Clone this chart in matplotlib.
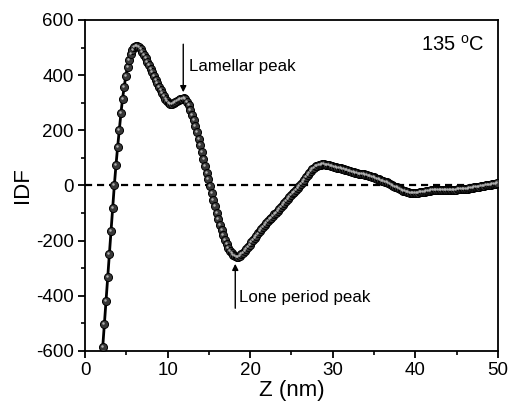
import numpy as np
import matplotlib
matplotlib.use("Agg")
import matplotlib.pyplot as plt
from matplotlib.ticker import MultipleLocator
from matplotlib.transforms import offset_copy

# ------------------- DATA ------------------- #
z_start = 1.95
z_step = 0.2
idf = [
    -668, -585, -503, -418, -333, -248, -166, -81, 0, 73,
    139, 200, 261, 315, 358, 398, 430, 455, 476, 492, 501,
    505, 505, 501, 494, 485, 474, 462, 449, 436, 423,
    410, 397, 384, 371, 358, 346, 334, 323, 314, 306,
    300, 297, 297, 298, 301, 305, 309, 313, 315, 316,
    312, 303, 290, 274, 256, 236, 215, 193, 170, 146,
    122, 97, 72, 47, 22, -3, -28, -52, -76, -99,
    -121, -142, -162, -180, -197, -212, -225, -236, -245, -252,
    -257, -259, -258, -255, -250, -244, -237, -230, -222, -214,
    -206, -198, -190, -182, -174, -166, -158, -150, -143, -136,
    -129, -123, -117, -111, -105, -99, -92, -85, -78, -71,
    -64, -57, -50, -43, -36, -29, -22, -15, -8, -1,
    6, 13, 21, 29, 37, 45, 52, 58, 64, 69,
    72, 75, 76, 77, 77, 76, 75, 73, 71, 69,
    67, 66, 64, 63, 62, 60, 58, 56, 55, 53,
    51, 49, 48, 46, 45, 43, 42, 41, 40, 39,
    38, 36, 34, 31, 29, 27, 24, 22, 19, 17,
    15, 13, 11, 8, 5, 2, -1, -4, -7, -10,
    -13, -16, -19, -21, -23, -25, -26, -27, -27, -27,
    -27, -26, -25, -24, -23, -22, -21, -20, -19, -18,
    -17, -17, -16, -16, -16, -16, -16, -16, -16, -16,
    -16, -16, -16, -15, -15, -14, -14, -13, -13, -12,
    -12, -11, -10, -9, -8, -7, -6, -5, -4, -3,
    -2, -1, 0, 1, 2, 3, 4, 6, 7, 9,
]
z = z_start + z_step * np.arange(len(idf))

temp_label = r"135 $^{\mathregular{o}}$C"
lamellar_label = "Lamellar peak"
long_period_label = "Lone period peak"

# ------------------- STYLE ------------------- #
plt.rcParams["font.family"] = ["Liberation Sans", "DejaVu Sans"]
plt.rcParams["mathtext.fontset"] = "custom"
plt.rcParams["mathtext.rm"] = "Liberation Sans"
plt.rcParams["axes.unicode_minus"] = False

fig = plt.figure(figsize=(5.09, 4.07), dpi=100)
ax = fig.add_axes([0.167, 0.1376, 0.811, 0.8134])

# zero line
ax.axhline(0, color="black", lw=1.6, ls=(0, (3.2, 2.2)), zorder=1)

# curve: line + dark spheres with a small highlight
ax.plot(z, idf, color="black", lw=2, zorder=2)
ax.plot(z, idf, ls="none", marker="o", ms=5.8, mfc="#383838", mec="black",
        mew=0.7, zorder=3)
shine = offset_copy(ax.transData, fig=fig, x=-0.7, y=0.7, units="points")
ax.plot(z, idf, ls="none", marker="o", ms=1.8, mfc="#b0b0b0", mec="none",
        transform=shine, zorder=4)

# ------------------- AXES ------------------- #
ax.set_xlim(0, 50)
ax.set_ylim(-600, 600)
ax.xaxis.set_major_locator(MultipleLocator(10))
ax.xaxis.set_minor_locator(MultipleLocator(5))
ax.yaxis.set_major_locator(MultipleLocator(200))
ax.yaxis.set_minor_locator(MultipleLocator(100))
ax.tick_params(which="major", direction="out", length=5, width=1.3,
               labelsize=13.5, pad=3)
ax.tick_params(which="minor", direction="out", length=3, width=1.2)
for sp in ax.spines.values():
    sp.set_linewidth(1.3)

ax.set_xlabel("Z (nm)", fontsize=16, labelpad=1)
ax.set_ylabel("IDF", fontsize=16, labelpad=2)

# ------------------- ANNOTATIONS ------------------- #
ax.text(48.4, 509, temp_label, fontsize=14.5, ha="right", va="center")

ax.annotate("", xy=(11.9, 338), xytext=(11.9, 512),
            arrowprops=dict(arrowstyle="-|>", color="black", lw=1,
                            mutation_scale=9, shrinkA=0, shrinkB=0))
ax.text(12.6, 432, lamellar_label, fontsize=12.2, ha="left", va="center")

ax.annotate("", xy=(18.2, -284), xytext=(18.2, -445),
            arrowprops=dict(arrowstyle="-|>", color="black", lw=1,
                            mutation_scale=9, shrinkA=0, shrinkB=0))
ax.text(18.6, -405, long_period_label, fontsize=12.2, ha="left", va="center")

fig.savefig("out.png", dpi=100)
